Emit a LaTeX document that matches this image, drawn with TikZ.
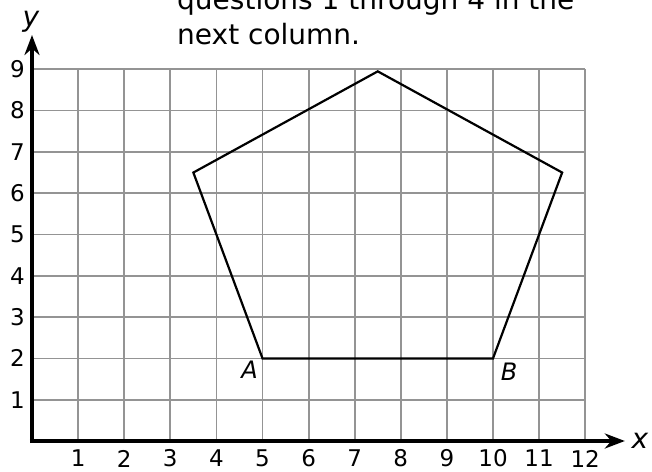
\documentclass[tikz,border=0pt]{standalone}
\usepackage{fontspec}
\setmainfont{DejaVu Sans}
\usetikzlibrary{arrows.meta}

\begin{document}
\begin{tikzpicture}[x=46.1pt,y=41.3pt,
    gridline/.style={draw=black!42,line width=1.8pt},
    axisline/.style={line width=4pt,-{Stealth[length=20pt,width=15pt]}},
    ticklabel/.style={font=\fontsize{23}{23}\selectfont,inner sep=0pt},
    pointlabel/.style={font=\fontsize{24}{24}\selectfont\itshape,inner sep=0pt},
    headline/.style={font=\fontsize{28}{28}\selectfont,inner sep=0pt,anchor=base west}]
    \useasboundingbox (-32pt,-30pt) rectangle (620pt,441pt);

    % grid
    \foreach \i in {1,...,12}
        \draw [gridline] (\i,0) -- (\i,9);
    \foreach \j in {1,...,9}
        \draw [gridline] (0,\j) -- (12,\j);

    % axes
    \coordinate (o) at (0,0);
    \coordinate (xend) at (12.86,0);
    \coordinate (yend) at (0,9.83);
    \draw [axisline] ([xshift=-2pt]o) -- (xend);
    \draw [axisline] ([yshift=-2pt]o) -- (yend);
    \node [pointlabel,font=\fontsize{28}{28}\selectfont\itshape] (xlab) at (608pt,0pt) {x};
    \node [pointlabel,font=\fontsize{28}{28}\selectfont\itshape] (ylab) at (-1pt,419pt) {y};

    % tick labels
    \foreach \i in {1,...,12}
        \node [ticklabel] (xt\i) at ([yshift=-17.5pt]\i,0) {\i};
    \foreach \j in {1,...,9}
        \node [ticklabel,anchor=east] (yt\j) at ([xshift=-7pt]0,\j) {\j};

    % pentagon
    \coordinate (A) at (5,2);
    \coordinate (B) at (10,2);
    \coordinate (r) at (11.5,6.5);
    \coordinate (t) at (7.5,8.95);
    \coordinate (l) at (3.5,6.5);
    \draw [line width=2.2pt,line join=miter] (A) -- (B) -- (r) -- (t) -- (l) -- cycle;

    \node [pointlabel] (Alab) at ([xshift=-13pt,yshift=-11pt]A) {A};
    \node [pointlabel] (Blab) at ([xshift=16pt,yshift=-13pt]B) {B};

    % text above the grid
    \node [headline] (line1) at (145pt,431pt) {questions 1 through 4 in the};
    \node [headline] (line2) at (145pt,396pt) {next column.};
\end{tikzpicture}
\end{document}
